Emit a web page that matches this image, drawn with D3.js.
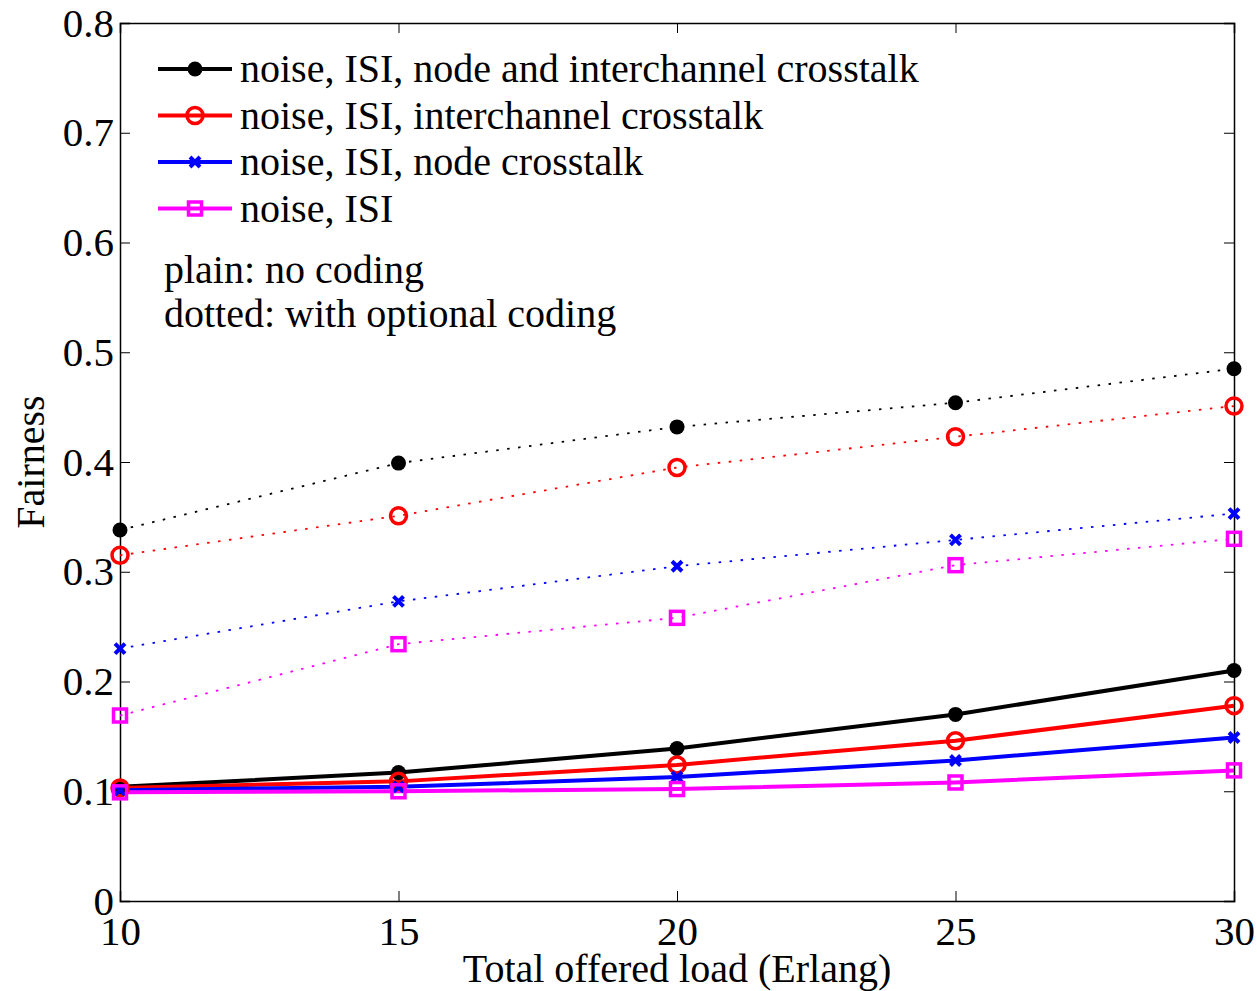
<!DOCTYPE html>
<html>
<head>
<meta charset="utf-8">
<script src="https://cdn.jsdelivr.net/npm/d3@7"></script>
<style>
  body { margin: 0; background: #fff; }
  text { font-family: "Liberation Serif", "Times New Roman", serif; fill: #000; }
</style>
</head>
<body>
<div class="chart"></div>
<script>
var width = 1257;
var height = 991;
var margin = {top: 23, right: 23, bottom: 90, left: 120};

// data
var loads = [10, 15, 20, 25, 30];
var seriesNames = ["noise, ISI, node and interchannel crosstalk",
                   "noise, ISI, interchannel crosstalk",
                   "noise, ISI, node crosstalk",
                   "noise, ISI"];
var colors = ["#000000", "#ff0000", "#0000ff", "#ff00ff"];
var markers = ["dot", "circle", "cross", "square"];

var plainAll = [0.104, 0.117, 0.139, 0.170, 0.210];
var plainInter = [0.103, 0.109, 0.124, 0.146, 0.178];
var plainNode = [0.101, 0.104, 0.113, 0.128, 0.149];
var plainIsi = [0.099, 0.100, 0.102, 0.108, 0.119];

var codedAll = [0.338, 0.399, 0.432, 0.454, 0.485];
var codedInter = [0.315, 0.351, 0.395, 0.423, 0.451];
var codedNode = [0.230, 0.273, 0.305, 0.329, 0.353];
var codedIsi = [0.169, 0.234, 0.258, 0.306, 0.330];

var plainSeries = [plainAll, plainInter, plainNode, plainIsi];
var codedSeries = [codedAll, codedInter, codedNode, codedIsi];

var xTicks = [10, 15, 20, 25, 30];
var yTicks = [0, 0.1, 0.2, 0.3, 0.4, 0.5, 0.6, 0.7, 0.8];
var notes = ["plain: no coding", "dotted: with optional coding"];

var svg = d3.select(".chart").append("svg")
  .attr("width", width)
  .attr("height", height);

var x = d3.scaleLinear().domain([10, 30]).range([margin.left, width - margin.right]);
var y = d3.scaleLinear().domain([0, 0.8]).range([height - margin.bottom, margin.top]);

var fmt = function(d){ return d === 0 ? "0" : d3.format(".1f")(d); };

// axes, matlab style ticks pointing in on all four sides
var tickLen = 10;
svg.append("g")
  .attr("transform", "translate(0," + y(0) + ")")
  .call(d3.axisBottom(x).tickValues(xTicks).tickSize(-tickLen).tickPadding(15).tickFormat(d3.format("d")));
svg.append("g")
  .attr("transform", "translate(0," + y(0.8) + ")")
  .call(d3.axisTop(x).tickValues(xTicks).tickSize(-tickLen).tickFormat(""));
svg.append("g")
  .attr("transform", "translate(" + x(10) + ",0)")
  .call(d3.axisLeft(y).tickValues(yTicks).tickSize(-tickLen).tickPadding(6).tickFormat(fmt));
svg.append("g")
  .attr("transform", "translate(" + x(30) + ",0)")
  .call(d3.axisRight(y).tickValues(yTicks).tickSize(-tickLen).tickFormat(""));

svg.selectAll(".domain").attr("stroke", "#000").attr("stroke-width", 1.5);
svg.selectAll(".tick line").attr("stroke", "#000").attr("stroke-width", 1);
svg.selectAll(".tick text")
  .style("font-family", "Liberation Serif, serif")
  .style("font-size", "41px")
  .attr("fill", "#000");

svg.append("text")
  .attr("x", (x(10) + x(30)) / 2)
  .attr("y", 982)
  .attr("text-anchor", "middle")
  .style("font-size", "40px")
  .text("Total offered load (Erlang)");

svg.append("text")
  .attr("transform", "translate(44," + y(0.4) + ") rotate(-90)")
  .attr("text-anchor", "middle")
  .style("font-size", "40px")
  .text("Fairness");

var line = d3.line()
  .x(function(d, i){ return x(loads[i]); })
  .y(function(d){ return y(d); });

var drawMarker = function(g, kind, color, cx, cy) {
  if (kind === "dot") {
    g.append("circle").attr("cx", cx).attr("cy", cy).attr("r", 7.5).attr("fill", color);
  } else if (kind === "circle") {
    g.append("circle").attr("cx", cx).attr("cy", cy).attr("r", 8)
      .attr("fill", "none").attr("stroke", color).attr("stroke-width", 3.5);
  } else if (kind === "cross") {
    var s = 5;
    g.append("path")
      .attr("d", "M" + (cx - s) + "," + (cy - s) + "L" + (cx + s) + "," + (cy + s) +
                 "M" + (cx - s) + "," + (cy + s) + "L" + (cx + s) + "," + (cy - s))
      .attr("stroke", color).attr("stroke-width", 4).attr("fill", "none");
  } else {
    g.append("rect").attr("x", cx - 6.5).attr("y", cy - 6.5).attr("width", 13).attr("height", 13)
      .attr("fill", "none").attr("stroke", color).attr("stroke-width", 3.5);
  }
};

var plot = svg.append("g");

// dotted (coded) series
codedSeries.forEach(function(vals, k){
  plot.append("path")
    .datum(vals)
    .attr("d", line)
    .attr("fill", "none")
    .attr("stroke", colors[k])
    .attr("stroke-width", 1.8)
    .attr("stroke-dasharray", "2.5,8.5");
});

// plain series
plainSeries.forEach(function(vals, k){
  plot.append("path")
    .datum(vals)
    .attr("d", line)
    .attr("fill", "none")
    .attr("stroke", colors[k])
    .attr("stroke-width", 4);
});

codedSeries.forEach(function(vals, k){
  vals.forEach(function(v, i){ drawMarker(plot, markers[k], colors[k], x(loads[i]), y(v)); });
});
plainSeries.forEach(function(vals, k){
  vals.forEach(function(v, i){ drawMarker(plot, markers[k], colors[k], x(loads[i]), y(v)); });
});

// legend
var legend = svg.append("g");
seriesNames.forEach(function(name, k){
  var ly = 69 + k * 46.5;
  legend.append("line")
    .attr("x1", 158).attr("x2", 232).attr("y1", ly).attr("y2", ly)
    .attr("stroke", colors[k]).attr("stroke-width", 4);
  drawMarker(legend, markers[k], colors[k], 195, ly);
  legend.append("text")
    .attr("x", 240).attr("y", ly + 13)
    .style("font-size", "40px")
    .text(name);
});

notes.forEach(function(t, i){
  svg.append("text")
    .attr("x", 164).attr("y", 283 + i * 44)
    .style("font-size", "40px")
    .text(t);
});
</script>
</body>
</html>
